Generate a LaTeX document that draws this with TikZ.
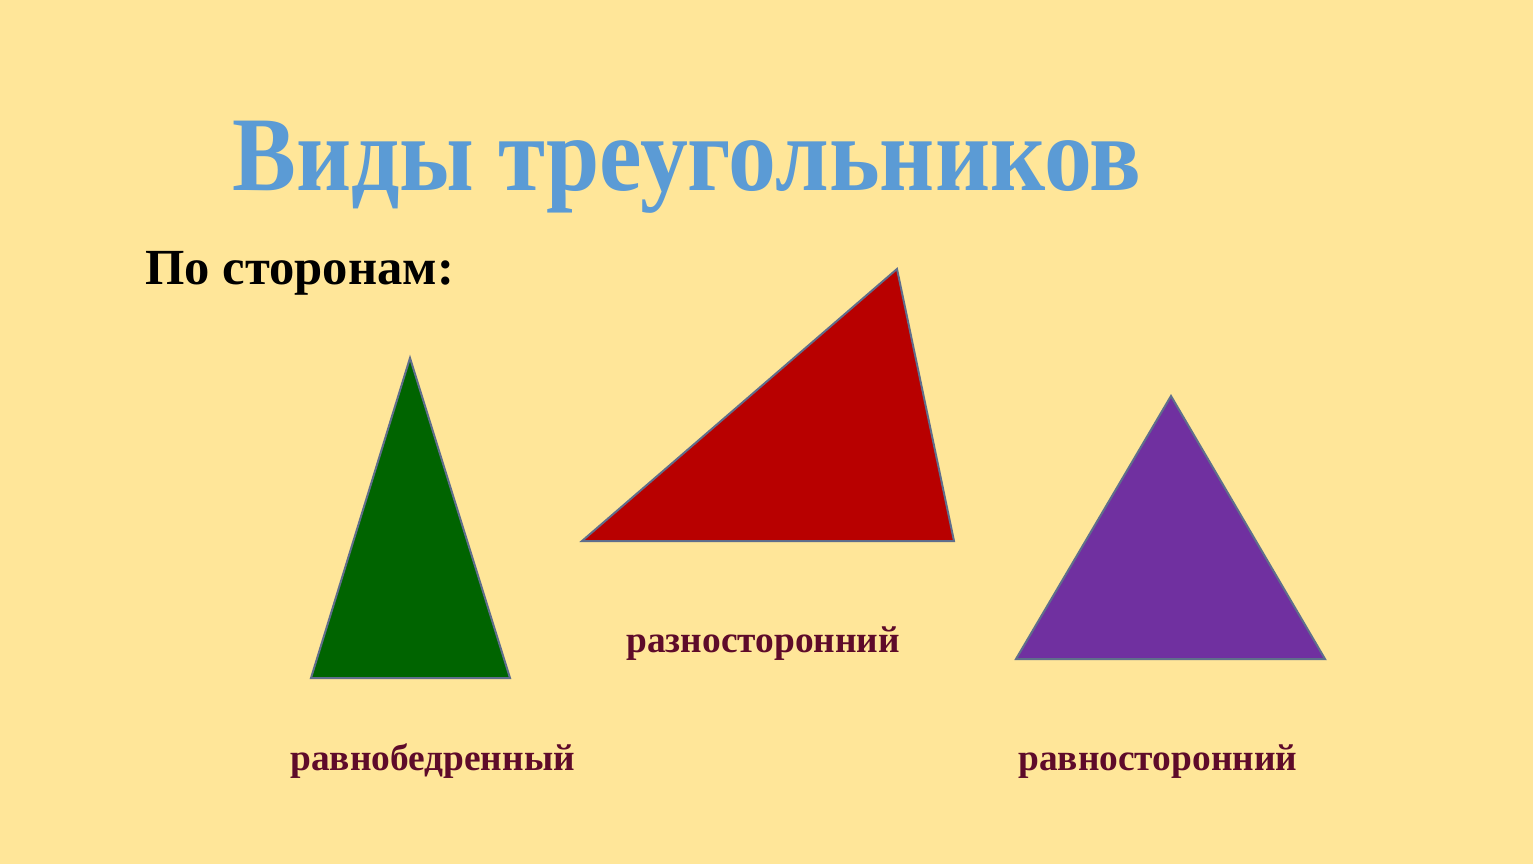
\documentclass[tikz,border=0pt]{standalone}
\usepackage{fontspec}
\setmainfont{Liberation Serif}
\definecolor{bg}{HTML}{FFE699}
\definecolor{titleblue}{HTML}{5B9BD5}
\definecolor{labelred}{HTML}{5E0B2A}
\definecolor{tgreen}{HTML}{006400}
\definecolor{tred}{HTML}{B80000}
\definecolor{tpurple}{HTML}{7030A0}
\definecolor{edge}{HTML}{5F6E8C}
\begin{document}
\begin{tikzpicture}[x=0.5pt,y=-0.5pt,
  tri/.style={draw=edge,line width=1pt,line join=miter},
  lbl/.style={anchor=base west,inner sep=0pt,text=labelred,font=\bfseries\fontsize{18.7}{21}\selectfont}]
\fill[bg] (0,0) rectangle (1533,864);
\useasboundingbox (0,0) rectangle (1533,864);
\node[anchor=base west,inner sep=0pt,text=titleblue,font=\bfseries\fontsize{53}{60}\selectfont] (title) at (232,190) {\scalebox{0.903}[1]{Виды треугольников}};
\node[anchor=base west,inner sep=0pt,text=black,font=\bfseries\fontsize{25.3}{29}\selectfont] (sub) at (145,284) {По сторонам:};
\draw[tri,fill=tgreen] (410,358) -- (510,678) -- (311,678) -- cycle;
\draw[tri,fill=tred] (897,269) -- (954,541) -- (582,541) -- cycle;
\draw[tri,fill=tpurple] (1171,396) -- (1325,659) -- (1016,659) -- cycle;
\node[lbl] (l1) at (290,770) {равнобедренный};
\node[lbl] (l2) at (626,652) {разносторонний};
\node[lbl] (l3) at (1018,770) {равносторонний};
\end{tikzpicture}
\end{document}
